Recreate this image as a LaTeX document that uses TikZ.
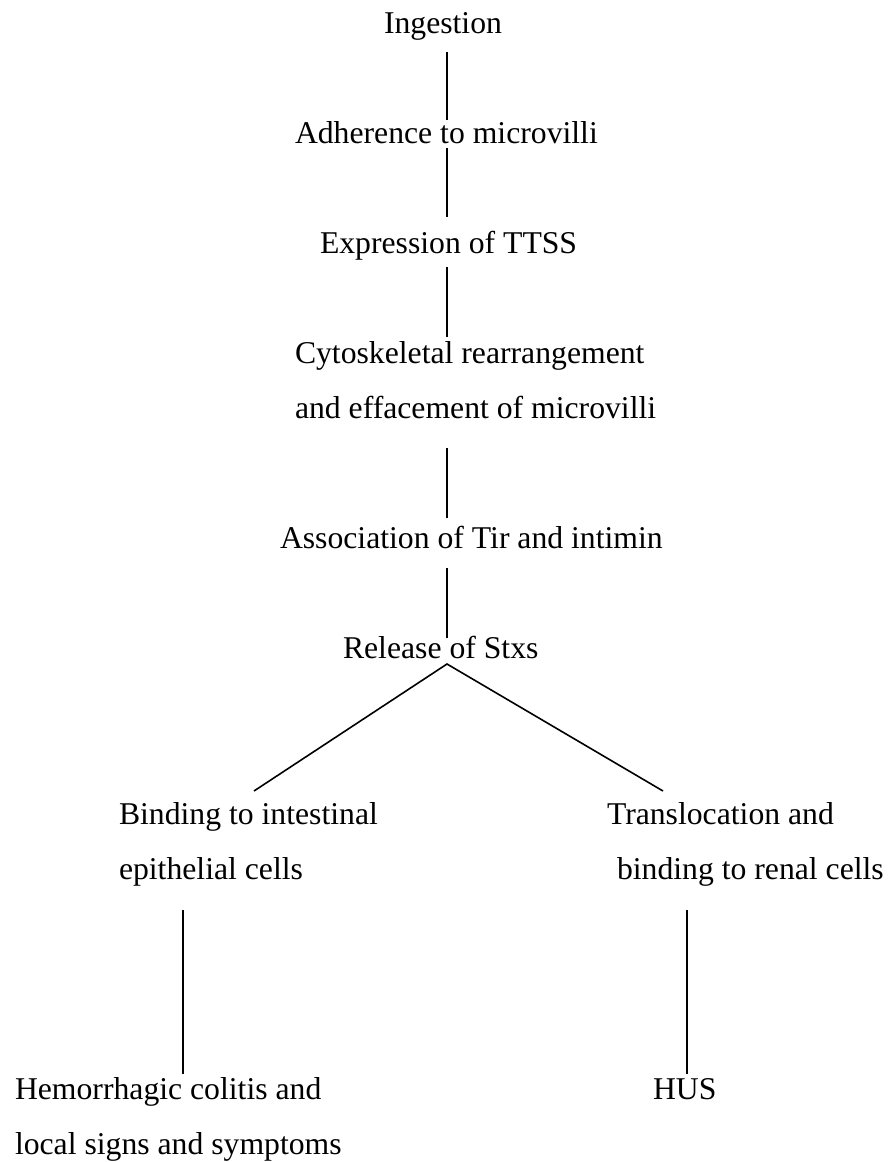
\documentclass[tikz,border=0pt]{standalone}
\usepackage{fontspec}
\setmainfont{Liberation Serif}
\begin{document}
\begin{tikzpicture}[x=1pt,y=-1pt,
  lbl/.style={anchor=base west,inner sep=0pt,outer sep=0pt,font=\fontsize{31.7}{38}\selectfont},
  conn/.style={line width=1.6pt,draw=black}]
\useasboundingbox (0,0) rectangle (891,1162);
% texts
\node[lbl] (ing) at (384,33) {Ingestion};
\node[lbl] (adh) at (295,143) {Adherence to microvilli};
\node[lbl] (exp) at (320,253) {Expression of TTSS};
\node[lbl] (cyt1) at (295,363) {Cytoskeletal rearrangement};
\node[lbl] (cyt2) at (295,418) {and effacement of microvilli};
\node[lbl] (assoc) at (280,548) {Association of Tir and intimin};
\node[lbl] (rel) at (343,658) {Release of Stxs};
\node[lbl] (bind1) at (119,824) {Binding to intestinal};
\node[lbl] (bind2) at (119,879) {epithelial cells};
\node[lbl] (trans1) at (607,824) {Translocation and};
\node[lbl] (trans2) at (617,879) {binding to renal cells};
\node[lbl] (hem1) at (15,1099) {Hemorrhagic colitis and};
\node[lbl] (hem2) at (15,1154) {local signs and symptoms};
\node[lbl] (hus) at (653,1099) {HUS};
% connector ends
\coordinate (l1a) at (447,52);  \coordinate (l1b) at (447,120);
\coordinate (l2a) at (447,148); \coordinate (l2b) at (447,217);
\coordinate (l3a) at (447,267); \coordinate (l3b) at (447,337);
\coordinate (l4a) at (447,448); \coordinate (l4b) at (447,518);
\coordinate (l5a) at (447,568); \coordinate (l5b) at (447,638);
\coordinate (apex) at (447,664);
\coordinate (dl) at (254,791);  \coordinate (dr) at (663,791);
\coordinate (l6a) at (183,910); \coordinate (l6b) at (183,1074);
\coordinate (l7a) at (687,910); \coordinate (l7b) at (687,1074);
% connectors
\draw[conn] (l1a) -- (l1b);
\draw[conn] (l2a) -- (l2b);
\draw[conn] (l3a) -- (l3b);
\draw[conn] (l4a) -- (l4b);
\draw[conn] (l5a) -- (l5b);
\draw[conn] (dl) -- (apex) -- (dr);
\draw[conn] (l6a) -- (l6b);
\draw[conn] (l7a) -- (l7b);
\end{tikzpicture}
\end{document}
